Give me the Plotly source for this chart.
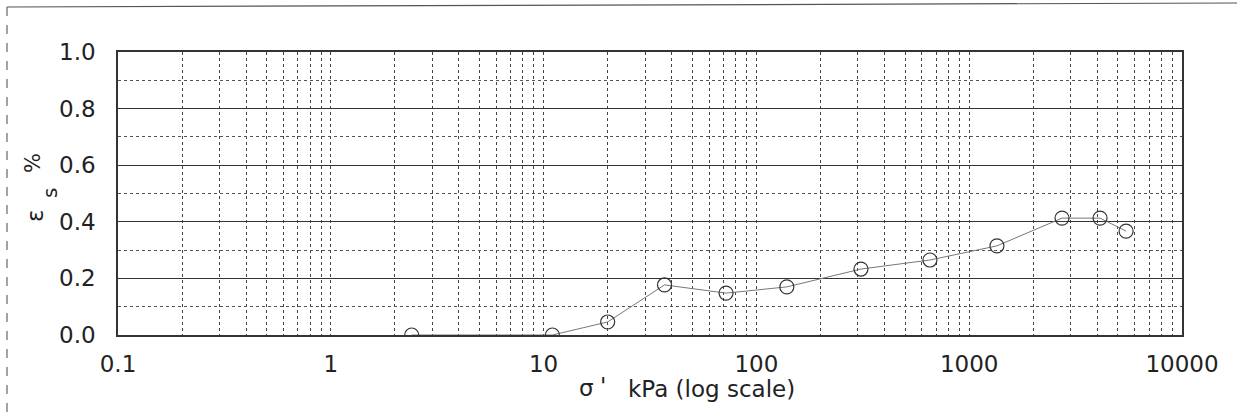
import plotly.graph_objects as go

# Data
stress_kpa = [2.4, 11, 20, 37, 72, 139, 310, 654, 1350, 2730, 4120, 5460]
strain_pct = [0.0, 0.0, 0.046, 0.177, 0.148, 0.170, 0.233, 0.265, 0.315, 0.413, 0.413, 0.367]

decades = [0.1, 1, 10, 100, 1000, 10000]
decade_labels = ["0.1", "1", "10", "100", "1000", "10000"]
y_ticks = [0.0, 0.2, 0.4, 0.6, 0.8, 1.0]
y_minor = [0.1, 0.3, 0.5, 0.7, 0.9]

# minor (2..9 x decade) gridline positions
x_minor = []
for d in decades[:-1]:
    for m in range(2, 10):
        x_minor.append(round(m * d, 6))

FONT = "DejaVu Sans, sans-serif"
W, H = 1237, 414
L, R, T, B = 118, 1182, 52, 335

fig = go.Figure()
fig.add_trace(go.Scatter(
    x=stress_kpa, y=strain_pct, mode="lines+markers",
    line=dict(color="#777777", width=1),
    marker=dict(symbol="circle-open", size=14, color="#333333", line=dict(width=1.2, color="#333333")),
    showlegend=False,
))

fig.update_layout(
    width=W, height=H,
    margin=dict(l=L, r=W - R, t=T, b=H - B),
    paper_bgcolor="white", plot_bgcolor="white",
    font=dict(family=FONT, size=23, color="#222222"),
    xaxis=dict(
        type="log", range=[-1, 4], automargin=False,
        tickmode="array", tickvals=decades, ticktext=decade_labels, tickangle=0,
        showgrid=True, gridcolor="#444444", gridwidth=1, griddash="dot",
        minor=dict(tickvals=x_minor, showgrid=True, gridcolor="#444444",
                   gridwidth=1, griddash="dot", ticks=""),
        ticks="", ticklabelstandoff=8,
        showline=True, linecolor="#333333", linewidth=1.5, mirror=True,
        tickfont=dict(size=23, family=FONT, color="#222222"),
    ),
    yaxis=dict(
        range=[0, 1.0], tickmode="array", tickvals=y_ticks, automargin=False,
        ticktext=[f"{v:.1f}" for v in y_ticks],
        showgrid=True, gridcolor="#333333", gridwidth=1.2,
        minor=dict(tickvals=y_minor, showgrid=True,
                   gridcolor="#555555", gridwidth=1, griddash="dot", ticks=""),
        zeroline=False, ticks="", ticklabelstandoff=16,
        showline=True, linecolor="#333333", linewidth=1.5, mirror=True,
        tickfont=dict(size=23, family=FONT, color="#222222"),
    ),
)

def px_x(p):
    return (p - L) / (R - L)

def px_y(p):
    return (B - p) / (B - T)

def label(text, x, y, xanchor="left", angle=0, size=23):
    fig.add_annotation(
        xref="paper", yref="paper", x=px_x(x), y=px_y(y),
        xanchor=xanchor, yanchor="middle", showarrow=False, textangle=angle,
        text=text, font=dict(size=size, family=FONT, color="#222222"),
    )

# x-axis title
label("σ", 577, 388)
label("'", 598, 386)
label("kPa (log scale)", 626, 389)

# y-axis title (rotated)
label("ε", 35, 216, xanchor="center", angle=-90)
label("s", 50, 193, xanchor="center", angle=-90, size=20)
label("%", 33, 163, xanchor="center", angle=-90, size=21)

# scanned page frame
fig.add_shape(type="line", xref="paper", yref="paper",
              x0=px_x(7), x1=px_x(1240), y0=px_y(7), y1=px_y(3),
              line=dict(color="#555555", width=1.2))
fig.add_shape(type="line", xref="paper", yref="paper",
              x0=px_x(7), x1=px_x(7), y0=px_y(7), y1=px_y(420),
              line=dict(color="#666666", width=1.2, dash="dash"))

fig.write_html("out.html")
